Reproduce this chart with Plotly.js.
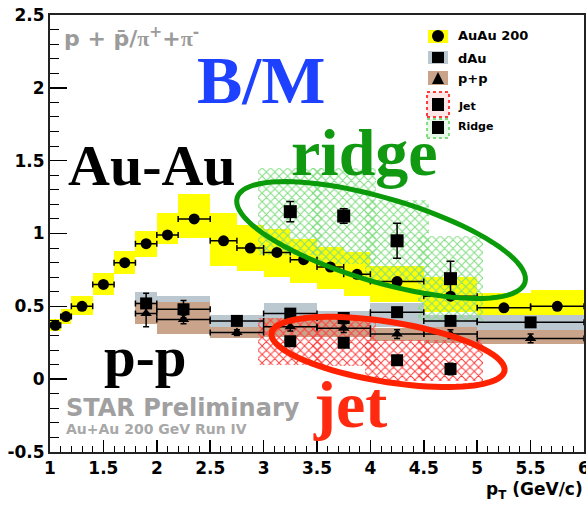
<!DOCTYPE html>
<html><head><meta charset="utf-8">
<script src="https://cdn.plot.ly/plotly-3.0.1.min.js"></script>
<style>html,body{margin:0;padding:0;background:#fff}#chart{width:586px;height:508px}</style>
</head><body><div id="chart"></div>
<script>
// ---------- data ----------
const auX    = [1.05,1.15,1.3,1.5,1.7,1.9,2.1,2.35,2.625,2.875,3.125,3.375,3.625,3.875,4.25,4.75,5.25,5.75];
const auXerr = [0.05,0.05,0.1,0.1,0.1,0.1,0.1,0.15,0.125,0.125,0.125,0.125,0.125,0.125,0.25,0.25,0.25,0.25];
const auY    = [0.37,0.43,0.50,0.65,0.80,0.93,0.99,1.10,0.95,0.90,0.87,0.82,0.77,0.72,0.67,0.57,0.49,0.50];
const auYerr = [0.01,0.01,0.01,0.01,0.01,0.01,0.01,0.02,0.02,0.02,0.02,0.02,0.02,0.02,0.02,0.02,0.02,0.02];
const auSysLo= [0.33,0.38,0.44,0.58,0.72,0.84,0.93,0.97,0.78,0.74,0.70,0.66,0.62,0.57,0.53,0.46,0.43,0.44];
const auSysHi= [0.41,0.48,0.57,0.73,0.88,1.02,1.14,1.27,1.14,1.06,1.03,0.96,0.91,0.87,0.78,0.70,0.59,0.61];

const dX     = [1.9,2.25,2.75,3.25,3.75,4.25,4.75,5.5];
const dXerr  = [0.1,0.25,0.25,0.25,0.25,0.25,0.25,0.5];
const dY     = [0.52,0.48,0.40,0.45,0.42,0.46,0.40,0.39];
const dYerr  = [0.07,0.06,0.03,0.03,0.03,0.03,0.03,0.03];
const dSysLo = [0.44,0.40,0.35,0.39,0.37,0.36,0.34,0.34];
const dSysHi = [0.60,0.57,0.44,0.52,0.47,0.52,0.44,0.44];

const pY     = [0.45,0.41,0.32,0.36,0.35,0.31,0.31,0.28];
const pYerr  = [0.09,0.03,0.02,0.03,0.03,0.03,0.03,0.03];
const pSysLo = [0.38,0.31,0.28,0.29,0.29,0.26,0.25,0.24];
const pSysHi = [0.53,0.53,0.36,0.42,0.41,0.35,0.36,0.34];

const jrX    = [3.25,3.75,4.25,4.75];
const jrW    = [0.6,0.6,0.6,0.6];
const jY     = [0.26,0.25,0.13,0.07];
const jYerr  = [0.02,0.02,0.02,0.04];
const jSysLo = [0.10,0.09,-0.01,-0.01];
const jSysHi = [0.42,0.41,0.27,0.27];

const rY     = [1.15,1.12,0.95,0.69];
const rYerr  = [0.07,0.05,0.12,0.12];
const rSysLo = [0.85,0.79,0.67,0.40];
const rSysHi = [1.45,1.45,1.23,0.98];

const yTicks = [-0.5,0,0.5,1,1.5,2,2.5];
const yTickText = ['-0.5','0','0.5','1','1.5','2','2.5'];

// ---------- geometry helpers ----------
const W=586,H=508,M={l:50,r:2,t:15,b:56};
const pw=W-M.l-M.r, ph=H-M.t-M.b;
const xR=[1,6], yR=[-0.5,2.5];
const kx=pw/(xR[1]-xR[0]), ky=ph/(yR[1]-yR[0]);
const P=px=>(px-M.l)/pw, Q=py=>(H-M.b-py)/ph;

function ellipsePath(cx,cy,a,b,deg){
  const th=deg*Math.PI/180; let s='';
  for(let i=0;i<=90;i++){
    const t=2*Math.PI*i/90;
    const ex=a*Math.cos(t)*Math.cos(th)-b*Math.sin(t)*Math.sin(th);
    const ey=a*Math.cos(t)*Math.sin(th)+b*Math.sin(t)*Math.cos(th);
    s+=(i?'L':'M')+(cx+ex/kx).toFixed(4)+','+(cy-ey/ky).toFixed(4);
  }
  return s+'Z';
}

function sysBar(x,lo,hi,w,color,pattern){
  const m={color:color,line:{width:0}};
  if(pattern) m.pattern=pattern;
  return {type:'bar',x:x,base:lo,y:hi.map((h,i)=>h-lo[i]),width:w,marker:m,hoverinfo:'skip',showlegend:false};
}
const eb=(arr,w)=>({type:'data',array:arr,visible:true,color:'#000',thickness:1.5,width:w});

const YEL='#ffff00', GRY='#bcc8d0', BRN='#c9a48b', RED='#ff3b3b', GRN='#7fdc7f';

const data=[
  sysBar(auX,auSysLo,auSysHi,auXerr.map(e=>2*e),YEL),
  sysBar(dX,dSysLo,dSysHi,dXerr.map(e=>2*e),GRY),
  sysBar(dX,pSysLo,pSysHi,dXerr.map(e=>2*e),BRN),
  sysBar(jrX,jSysLo,jSysHi,jrW,'rgba(0,0,0,0)',{shape:'x',fgcolor:RED,bgcolor:'rgba(0,0,0,0)',size:6,solidity:0.3,fillmode:'replace'}),
  sysBar(jrX,rSysLo,rSysHi,jrW,'rgba(0,0,0,0)',{shape:'x',fgcolor:GRN,bgcolor:'rgba(0,0,0,0)',size:6,solidity:0.3,fillmode:'replace'}),
  {type:'scatter',mode:'markers',x:auX,y:auY,error_x:eb(auXerr,3),error_y:eb(auYerr,0),
   marker:{symbol:'circle',size:11,color:'#000'},showlegend:false,hoverinfo:'skip',cliponaxis:false},
  {type:'scatter',mode:'markers',x:dX,y:pY,error_x:eb(dXerr,3),error_y:eb(pYerr,3),
   marker:{symbol:'triangle-up',size:10,color:'#000'},showlegend:false,hoverinfo:'skip'},
  {type:'scatter',mode:'markers',x:dX,y:dY,error_x:eb(dXerr,3),error_y:eb(dYerr,3),
   marker:{symbol:'square',size:12,color:'#000'},showlegend:false,hoverinfo:'skip'},
  {type:'scatter',mode:'markers',x:jrX,y:jY,error_y:eb(jYerr,3),
   marker:{symbol:'square',size:12,color:'#000'},showlegend:false,hoverinfo:'skip'},
  {type:'scatter',mode:'markers',x:jrX,y:rY,error_y:eb(rYerr,4),
   marker:{symbol:'square',size:13,color:'#000'},showlegend:false,hoverinfo:'skip'}
];

const serif='Liberation Serif, Times New Roman, serif';
const sans='DejaVu Sans, sans-serif';
function txt(text,px,py,size,color,family,xanchor){
  return {text:text,x:P(px),y:Q(py),xref:'paper',yref:'paper',showarrow:false,
    xanchor:xanchor||'center',yanchor:'middle',font:{family:family,size:size,color:color,weight:'bold'}};
}
const annotations=[
  txt('p + p\u0304/<span style="font-family:Liberation Serif">\u03c0</span><sup>+</sup>+<span style="font-family:Liberation Serif">\u03c0</span><sup>-</sup>',62,37,22,'#9b9b9b',sans,'left'),
  txt('B/M',261,80,68,'#1e40ff',serif),
  txt('ridge',364,152,66,'#119a11',serif),
  txt('Au-Au',152,165,58,'#000',serif),
  txt('p-p',145,356,57,'#000',serif),
  txt('jet',350,404,66,'#ff2a10',serif),
  txt('STAR Preliminary',64,408,24,'#a0a0a0',sans,'left'),
  txt('Au+Au 200 GeV Run IV',64,429,14,'#a8a8a8',sans,'left'),
  txt('AuAu 200',456,36,13,'#000',sans,'left'),
  txt('dAu',456,58,13,'#000',sans,'left'),
  txt('p+p',456,79,13,'#000',sans,'left'),
  txt('Jet',456,106,11,'#000',sans,'left'),
  txt('Ridge',456,127,11,'#000',sans,'left'),
  txt('p<sub>T</sub> (GeV/c)',585,490,17,'#000',sans,'right')
];

const rectP=(x0,y0,x1,y1,fill,line)=>({type:'rect',xref:'paper',yref:'paper',x0:P(x0),x1:P(x1),y0:Q(y1),y1:Q(y0),
  fillcolor:fill,line:line||{width:0},layer:'above'});
const shapes=[
  {type:'path',xref:'x',yref:'y',path:ellipsePath(4.10,0.955,150,42,16.4),line:{color:'#0a9a0a',width:5},fillcolor:'rgba(0,0,0,0)'},
  {type:'path',xref:'x',yref:'y',path:ellipsePath(4.165,0.187,118,30,9.2),line:{color:'#ff2200',width:6},fillcolor:'rgba(0,0,0,0)'},
  rectP(428,30,448,43,YEL),
  rectP(428,51,448,64,GRY),
  rectP(428,71,448,85,BRN),
  rectP(427,92,449,117,'rgba(255,120,120,0.18)',{color:RED,width:2,dash:'dot'}),
  rectP(427,119,449,138,'rgba(120,220,120,0.18)',{color:GRN,width:2,dash:'dot'}),
  {type:'circle',xref:'paper',yref:'paper',x0:P(432),x1:P(444),y0:Q(42),y1:Q(30),fillcolor:'#000',line:{width:0}},
  rectP(432,52,444,63,'#000'),
  {type:'path',xref:'paper',yref:'paper',path:`M${P(432)},${Q(84)}L${P(444)},${Q(84)}L${P(438)},${Q(72)}Z`,fillcolor:'#000',line:{width:0}},
  rectP(432,98,444,111,'#000'),
  rectP(432,121,444,134,'#000')
];

const tickfont={family:sans,size:17,color:'#000',weight:'bold'};
const layout={
  width:W,height:H,margin:M,paper_bgcolor:'#fff',plot_bgcolor:'#fff',
  barmode:'overlay',bargap:0,showlegend:false,
  xaxis:{range:xR,tick0:1,dtick:0.5,ticks:'inside',ticklen:12,tickwidth:1.5,tickcolor:'#000',ticklabeloverflow:'allow',
    showline:true,linecolor:'#222',linewidth:2,mirror:true,showgrid:false,zeroline:false,tickfont:tickfont,
    minor:{ticks:'inside',dtick:0.1,ticklen:6,tickwidth:1,tickcolor:'#000',showgrid:false}},
  yaxis:{range:yR,tickvals:yTicks,ticktext:yTickText,ticks:'inside',ticklen:17,tickwidth:1.5,tickcolor:'#000',ticklabeloverflow:'allow',
    showline:true,linecolor:'#222',linewidth:2,mirror:true,showgrid:false,zeroline:false,tickfont:tickfont,
    minor:{ticks:'inside',dtick:0.1,tick0:0,ticklen:9,tickwidth:1,tickcolor:'#000',showgrid:false}},
  annotations:annotations,shapes:shapes
};
Plotly.newPlot('chart',data,layout,{displayModeBar:false,staticPlot:true});
</script></body></html>
